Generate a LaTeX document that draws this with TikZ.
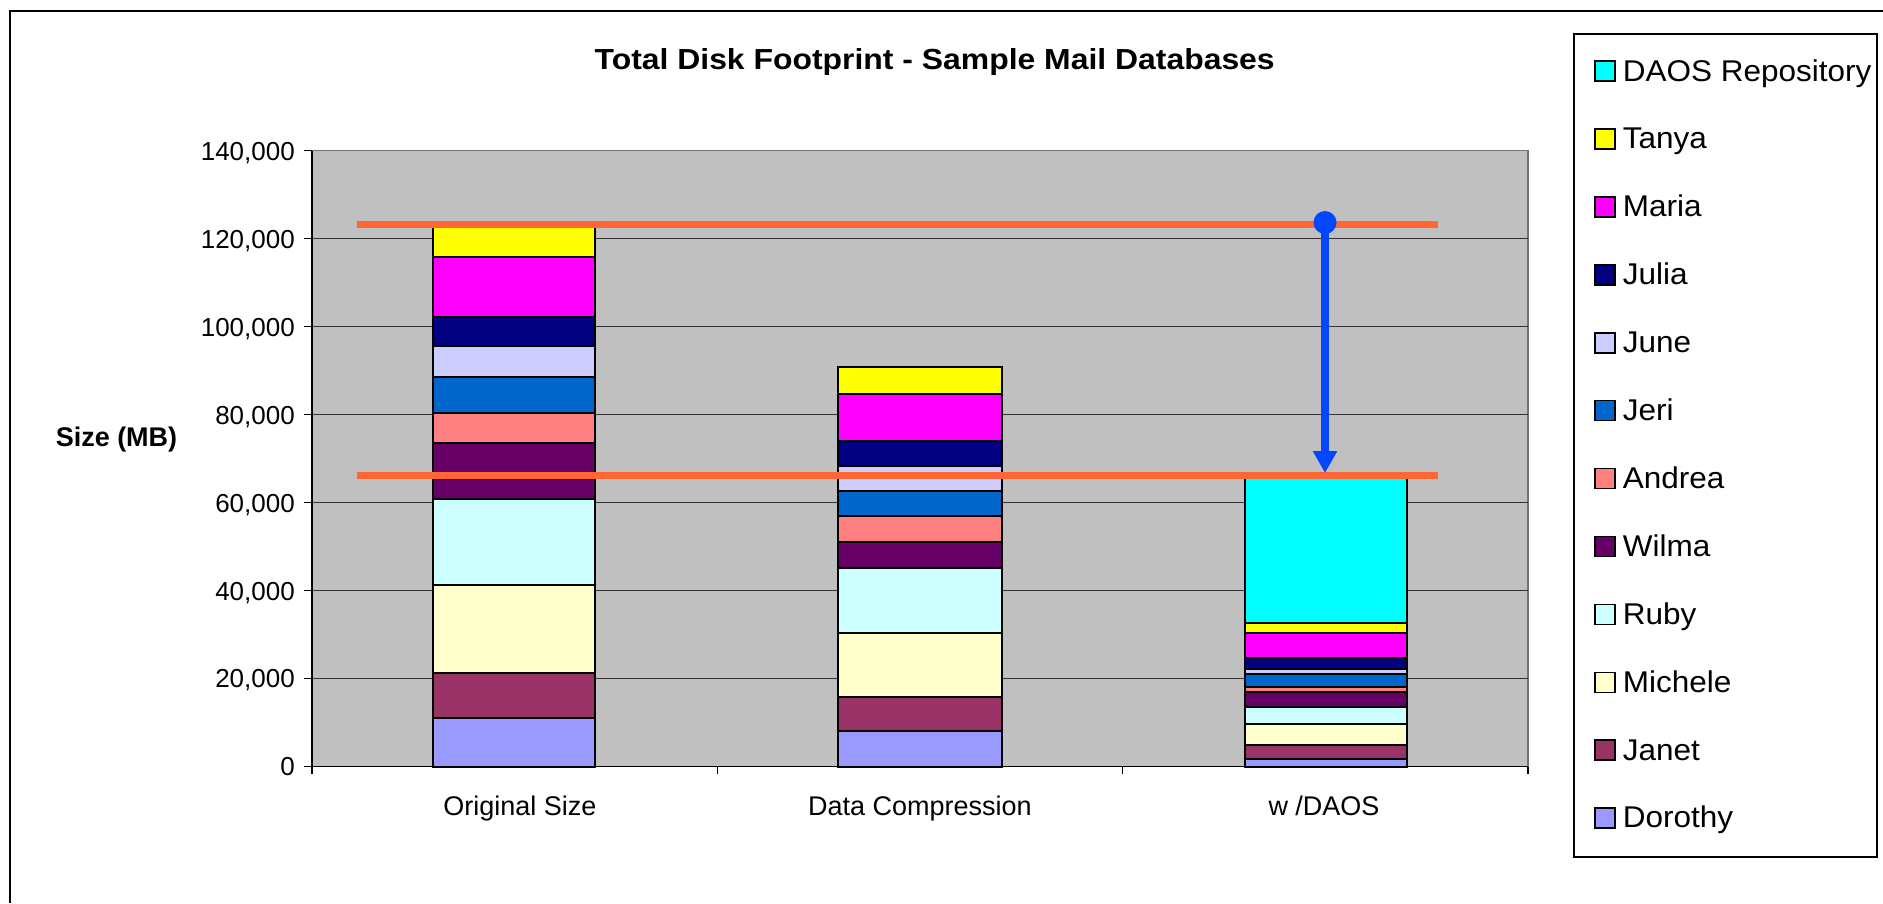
\documentclass[tikz,border=0pt]{standalone}
\usepackage{fontspec}
\setmainfont{Liberation Sans}
\usetikzlibrary{arrows.meta}
\definecolor{cDAOS}{HTML}{00FFFF}
\definecolor{cTan}{HTML}{FFFF00}
\definecolor{cMar}{HTML}{FF00FF}
\definecolor{cJul}{HTML}{000080}
\definecolor{cJune}{HTML}{CCCCFF}
\definecolor{cJeri}{HTML}{0066CC}
\definecolor{cAnd}{HTML}{FF8080}
\definecolor{cWil}{HTML}{660066}
\definecolor{cRub}{HTML}{CCFFFF}
\definecolor{cMic}{HTML}{FFFFCC}
\definecolor{cJan}{HTML}{993366}
\definecolor{cDor}{HTML}{9999FF}
\definecolor{plotbg}{HTML}{C0C0C0}
\definecolor{orangeline}{HTML}{FF6633}
\definecolor{arrowblue}{HTML}{0047FF}
\tikzset{
  seg/.style={draw=black, line width=2},
  grid line/.style={draw=black!80, line width=1.3},
  ticklabel/.style={anchor=base east, inner sep=0, font=\fontsize{26}{30}\selectfont},
  catlabel/.style={anchor=base, inner sep=0, font=\fontsize{27}{31}\selectfont},
  swatch/.style={draw=black, line width=1.5, minimum size=20, inner sep=0},
  legtext/.style={anchor=base west, inner sep=0, font=\fontsize{30}{34}\selectfont},
  refline/.style={draw=orangeline, line width=6.7},
}
\begin{document}
\begin{tikzpicture}[x=1pt,y=-1pt]
\useasboundingbox (0,0) rectangle (1883,903);
\fill[white] (0,0) rectangle (1883,903);
% outer frame (top and left visible)
\draw[line width=2.2] (10,903) -- (10,10.7) -- (1883,10.7);

% title
\node[anchor=base, inner sep=0, font=\bfseries\fontsize{29}{33}\selectfont] (title) at (934.7,69.3) {\scalebox{1.1}[1]{Total Disk Footprint - Sample Mail Databases}};

% plot area
\fill[plotbg] (312,150.8) rectangle (1528,766.6);
\draw[draw=black!55, line width=1.3] (312,150.8) -- (1528,150.8) -- (1528,766.6);
\foreach \y in {678.6,590.7,502.7,414.7,326.8,238.8} {
  \draw[grid line] (312,\y) -- (1528,\y);
}
% axes
\draw[black, line width=1.3] (312,150.8) -- (312,766.6) -- (1528,766.6);
\foreach \y in {150.8,238.8,326.8,414.7,502.7,590.7,678.6,766.6} {
  \draw[black, line width=1.3] (304,\y) -- (312,\y);
}
\foreach \x in {312,717.3,1122.7,1528} {
  \draw[black, line width=1.3] (\x,766.6) -- (\x,773.5);
}
% tick labels
\foreach \v/\y [count=\k] in {0/766.6,{20,000}/678.6,{40,000}/590.7,{60,000}/502.7,{80,000}/414.7,{100,000}/326.8,{120,000}/238.8,{140,000}/150.8} {
  \node[ticklabel] (yl\k) at (295,\y+9.3) {\v};
}
% axis title
\node[anchor=base, inner sep=0, font=\bfseries\fontsize{27}{31}\selectfont] (ytitle) at (116.5,446.7) {Size (MB)};

% category labels
\node[catlabel] (cat1) at (520,815) {Original Size};
\node[catlabel] (cat2) at (920,815) {Data Compression};
\node[catlabel] (cat3) at (1324,815) {w /DAOS};

% bars
\foreach \ya/\yb/\c in {766.6/718.3/cDor, 718.3/672.8/cJan, 672.8/584.8/cMic, 584.8/498.9/cRub, 498.9/443.4/cWil, 443.4/412.7/cAnd, 412.7/376.8/cJeri, 376.8/345.8/cJune, 345.8/316.9/cJul, 316.9/257.3/cMar, 257.3/224.5/cTan} {
  \draw[seg, fill=\c] (433.3,\ya) rectangle (594.7,\yb);
}
\foreach \ya/\yb/\c in {766.6/730.7/cDor, 730.7/697/cJan, 697/632.7/cMic, 632.7/568.3/cRub, 568.3/541.7/cWil, 541.7/515.7/cAnd, 515.7/491.3/cJeri, 491.3/465.7/cJune, 465.7/440.7/cJul, 440.7/393.7/cMar, 393.7/367.3/cTan} {
  \draw[seg, fill=\c] (837.7,\ya) rectangle (1001.7,\yb);
}
\foreach \ya/\yb/\c in {766.6/759.4/cDor, 759.4/745.3/cJan, 745.3/723.5/cMic, 723.5/706.5/cRub, 706.5/692.4/cWil, 692.4/686.9/cAnd, 686.9/673.5/cJeri, 673.5/669.1/cJune, 669.1/658.4/cJul, 658.4/632.9/cMar, 632.9/622.9/cTan, 622.9/476/cDAOS} {
  \draw[seg, fill=\c] (1245,\ya) rectangle (1406.7,\yb);
}

% orange reference lines
\coordinate (oa1) at (357,224.5);
\coordinate (oa2) at (1437.5,224.5);
\coordinate (ob1) at (357,475.6);
\coordinate (ob2) at (1437.5,475.6);
\draw[refline] (oa1) -- (oa2);
\draw[refline] (ob1) -- (ob2);

% blue arrow
\coordinate (arrtop) at (1325,222.5);
\coordinate (arrbot) at (1325,473);
\fill[arrowblue] (arrtop) circle (11.5);
\draw[arrowblue, line width=7.7, -{Triangle[width=23,length=22]}] (arrtop) -- (arrbot);

% legend
\draw[black, line width=2] (1574,34) rectangle (1876.7,856.7);
\foreach \t/\c [count=\i from 0] in {DAOS Repository/cDAOS, Tanya/cTan, Maria/cMar, Julia/cJul, June/cJune, Jeri/cJeri, Andrea/cAnd, Wilma/cWil, Ruby/cRub, Michele/cMic, Janet/cJan, Dorothy/cDor} {
  \node[swatch, fill=\c] (sw\i) at (1605,71.2+\i*67.9) {};
  \node[legtext] (lt\i) at (1622.7,81+\i*67.9) {\scalebox{1.05}[1]{\t}};
}
\end{tikzpicture}
\end{document}
